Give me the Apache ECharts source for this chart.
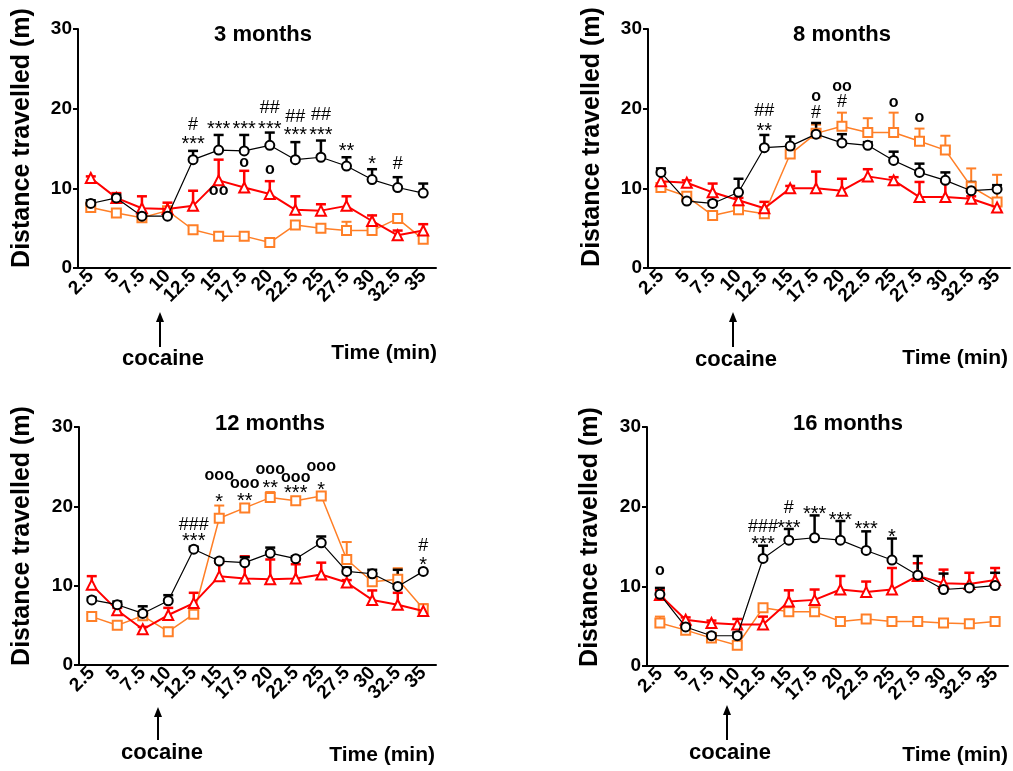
<!DOCTYPE html>
<html><head><meta charset="utf-8">
<script src="https://cdn.jsdelivr.net/npm/echarts@6/dist/echarts.min.js"></script>
<style>html,body{margin:0;padding:0;background:#fff}#c{width:1013px;height:771px}</style>
</head><body><div id="c"></div>
<script>
// ---- data ----
const cats = ['2.5','5','7.5','10','12.5','15','17.5','20','22.5','25','27.5','30','32.5','35'];
const titles = ['3 months','8 months','12 months','16 months'];
const yTicks = [0, 10, 20, 30];

const m3Black     = [8.1,8.8,6.5,6.5,13.6,14.8,14.7,15.4,13.6,13.9,12.8,11.1,10.1,9.4];
const m3BlackErr  = [0.4,0.4,0.3,0.3,1.1,1.9,2.0,1.6,2.2,2.1,1.1,1.3,1.3,1.2];
const m3Red       = [11.3,8.8,7.5,7.4,7.8,11.0,10.1,9.3,7.3,7.2,7.8,5.9,4.1,4.7];
const m3RedErr    = [0.2,0.6,1.5,0.8,1.9,2.6,2.1,1.6,1.7,0.8,1.2,0.7,0.6,0.8];
const m3Orange    = [7.6,6.9,6.3,7.2,4.8,4.0,4.0,3.2,5.4,5.0,4.7,4.7,6.2,3.6];
const m3OrangeErr = [0.3,0.3,0.3,0.3,0.3,0.3,0.3,0.3,0.3,0.3,1.1,0.3,0.3,0.3];
const m3Notes = [[4,16.1,'***'],[4,18.0,'#'],[5,18.0,'***'],[6,18.0,'***'],[7,18.0,'***'],[7,20.1,'##'],
  [8,17.3,'***'],[8,19.0,'##'],[9,17.3,'***'],[9,19.2,'##'],[10,15.2,'**'],[11,13.6,'*'],[12,13.1,'#'],
  [6,13.1,'o'],[7,12.2,'o'],[5,9.6,'oo']];

const m8Black     = [12.0,8.4,8.1,9.5,15.1,15.3,16.8,15.7,15.4,13.5,12.0,11.0,9.7,9.9];
const m8BlackErr  = [0.5,0.3,0.3,1.7,1.6,1.2,1.4,1.1,0.4,1.1,1.1,1.0,1.1,0.5];
const m8Red       = [10.9,10.7,9.5,8.5,7.5,10.0,10.0,9.7,11.5,11.0,8.9,8.9,8.7,7.6];
const m8RedErr    = [1.2,0.3,1.1,0.3,0.8,0.3,2.1,1.5,0.9,0.4,1.9,1.9,0.3,0.3];
const m8Orange    = [10.1,9.0,6.6,7.3,6.8,14.3,16.9,17.8,17.0,17.0,15.9,14.8,10.2,8.3];
const m8OrangeErr = [0.3,0.3,0.3,0.3,0.3,0.3,1.1,1.7,1.8,2.5,1.6,1.8,2.3,3.4];
const m8Notes = [[4,17.8,'**'],[4,19.7,'##'],[6,19.4,'#'],[6,21.4,'o'],[7,20.8,'#'],[7,22.7,'oo'],[9,20.6,'o'],[10,18.7,'o']];

const m12Black     = [8.2,7.6,6.5,8.1,14.6,13.1,12.9,14.1,13.4,15.4,11.8,11.5,9.9,11.8];
const m12BlackErr  = [0.3,0.4,0.9,0.7,0.3,0.3,0.7,0.7,0.3,0.8,0.5,0.5,2.1,0];
const m12Red       = [10.1,6.9,4.5,6.3,7.8,11.2,10.9,10.8,10.9,11.4,10.4,8.2,7.6,6.8];
const m12RedErr    = [1.1,0.3,0.3,0.9,1.3,1.7,2.8,2.5,1.8,1.5,0.3,1.2,1.5,0.8];
const m12Orange    = [6.1,5.0,6.2,4.2,6.4,18.5,19.8,21.1,20.7,21.3,13.3,10.5,10.8,7.1];
const m12OrangeErr = [0.3,0.3,0.3,0.3,0.3,1.6,0.5,0.7,0.3,0.3,2.2,0.3,1.4,0.3];
const m12Notes = [[4,16.2,'***'],[4,17.7,'###'],[5,21.1,'*'],[5,23.8,'ooo'],[6,21.2,'**'],[6,22.8,'ooo'],
  [7,22.9,'**'],[7,24.5,'ooo'],[8,22.2,'***'],[8,23.5,'ooo'],[9,22.6,'*'],[9,24.9,'ooo'],[13,13.2,'*'],[13,15.0,'#']];

const m16Black     = [9.0,4.9,3.8,3.8,13.5,15.8,16.1,15.8,14.5,13.3,11.4,9.6,9.8,10.1];
const m16BlackErr  = [0.8,0.3,0.3,0.4,1.6,1.4,2.8,2.4,2.4,2.7,2.4,2.0,0.3,1.6];
const m16Red       = [8.9,5.8,5.4,5.2,5.2,8.1,8.3,9.6,9.3,9.6,11.3,10.4,10.3,10.8];
const m16RedErr    = [0.6,0.3,0.3,0.7,1.0,1.4,1.3,1.7,1.3,2.7,1.6,1.7,1.4,1.5];
const m16Orange    = [5.4,4.5,3.5,2.6,7.3,6.8,6.8,5.6,5.9,5.6,5.6,5.4,5.3,5.6];
const m16OrangeErr = [0.8,0.3,0.3,0.3,0.3,0.3,0.3,0.3,0.3,0.3,0.3,0.3,0.3,0.3];
const m16Notes = [[0,11.8,'o'],[4,15.9,'***'],[4,17.4,'###'],[5,17.9,'***'],[5,19.8,'#'],[6,19.7,'***'],
  [7,18.9,'***'],[8,17.8,'***'],[9,16.7,'*']];

// ---- layout / styling ----
const panels = [
  {black:m3Black, blackErr:m3BlackErr, red:m3Red, redErr:m3RedErr, orange:m3Orange, orangeErr:m3OrangeErr, notes:m3Notes},
  {black:m8Black, blackErr:m8BlackErr, red:m8Red, redErr:m8RedErr, orange:m8Orange, orangeErr:m8OrangeErr, notes:m8Notes},
  {black:m12Black, blackErr:m12BlackErr, red:m12Red, redErr:m12RedErr, orange:m12Orange, orangeErr:m12OrangeErr, notes:m12Notes},
  {black:m16Black, blackErr:m16BlackErr, red:m16Red, redErr:m16RedErr, orange:m16Orange, orangeErr:m16OrangeErr, notes:m16Notes}
];
const grids = [
  {left:78, top:29, width:358, height:239},
  {left:648, top:29, width:362, height:239},
  {left:79, top:427, width:357, height:238},
  {left:647, top:427, width:361, height:239}
];
const FONT = '"Liberation Sans", Arial, sans-serif';
const BLACK = '#000000', RED = '#ff0000', ORANGE = '#ff7f27';

const option = {
  animation:false,
  backgroundColor:'#fff',
  textStyle:{fontFamily:FONT},
  title: titles.map((t,i)=>({
    text:t, left:[258,837,265,843][i], top:[19,19,408,408][i], textAlign:'center',
    textStyle:{fontSize:22, fontWeight:'bold', color:'#000', fontFamily:FONT}
  })),
  grid: grids,
  xAxis: grids.map((g,i)=>({
    type:'category', gridIndex:i, data:cats, boundaryGap:true,
    axisLine:{lineStyle:{color:'#000', width:2}},
    axisTick:{alignWithLabel:true, length:5, lineStyle:{color:'#000', width:2}},
    axisLabel:{interval:0, rotate:45, fontSize:19, fontWeight:'bold', color:'#000', margin:5, fontFamily:FONT},
    splitLine:{show:false}
  })),
  yAxis: grids.map((g,i)=>({
    type:'value', gridIndex:i, min:0, max:30, interval:10,
    axisLine:{show:true, lineStyle:{color:'#000', width:2}},
    axisTick:{show:true, length:5, lineStyle:{color:'#000', width:2}},
    axisLabel:{fontSize:19, fontWeight:'bold', color:'#000', margin:6, fontFamily:FONT,
      formatter:v=>yTicks.includes(v)?String(v):''},
    splitLine:{show:false}
  })),
  series:[],
  graphic:[]
};

function errSeries(vals, errs, color, gi, lw){
  return {
    type:'custom', xAxisIndex:gi, yAxisIndex:gi, z:1, silent:true,
    data: vals.map((v,k)=>[k, v, errs[k]]),
    renderItem:(params, api)=>{
      const x = api.coord([api.value(0), api.value(1)]);
      const top = api.coord([api.value(0), api.value(1)+api.value(2)]);
      const st = {stroke:color, lineWidth:lw};
      return {type:'group', children:[
        {type:'line', shape:{x1:x[0], y1:x[1], x2:top[0], y2:top[1]}, style:st},
        {type:'line', shape:{x1:top[0]-5, y1:top[1], x2:top[0]+5, y2:top[1]}, style:st}
      ]};
    }
  };
}
function lineSeries(vals, color, symbol, size, lw, bw, gi, z){
  return {
    type:'line', xAxisIndex:gi, yAxisIndex:gi, data:vals, z:z,
    symbol:symbol, symbolSize:size, showAllSymbol:true,
    lineStyle:{color:color, width:lw},
    itemStyle:{color:color, borderColor:color, borderWidth:bw}
  };
}
function noteSeries(notes, gi){
  return {
    type:'custom', xAxisIndex:gi, yAxisIndex:gi, z:10, silent:true,
    data: notes.map(n=>[n[0], n[1], n[2]]),
    renderItem:(params, api)=>{
      const p = api.coord([api.value(0), api.value(1)]);
      const txt = notes[params.dataIndex][2];
      const star = txt.indexOf('*')>=0;
      const circ = txt.indexOf('o')>=0;
      const font = star ? '20px ' : (circ ? 'bold 16px ' : '18px ');
      return {type:'text', style:{
        text:txt, x:p[0], y:p[1] + (star?5:(circ?-1:0)), align:'center', verticalAlign:'middle',
        fill:'#000', font:font + FONT
      }};
    }
  };
}

panels.forEach((p,gi)=>{
  option.series.push(errSeries(p.orange, p.orangeErr, ORANGE, gi, 2));
  option.series.push(errSeries(p.red, p.redErr, RED, gi, 2.5));
  option.series.push(errSeries(p.black, p.blackErr, BLACK, gi, 2.5));
  option.series.push(lineSeries(p.orange, ORANGE, 'emptyRect', 9, 1.5, 2, gi, 3));
  option.series.push(lineSeries(p.red, RED, 'emptyTriangle', 10, 2, 2, gi, 4));
  option.series.push(lineSeries(p.black, BLACK, 'emptyCircle', 9, 1.2, 2, gi, 5));
  option.series.push(noteSeries(p.notes, gi));
});

// y-axis names
const yNames = [[22,138],[592,137],[22,536],[590,537]];
yNames.forEach(n=>{
  option.graphic.push({type:'text', x:n[0], y:n[1], rotation:Math.PI/2,
    style:{text:'Distance travelled (m)', font:'bold 25px '+FONT, fill:'#000', align:'center', verticalAlign:'middle'}});
});
// cocaine arrows and axis captions
const arrows = [[160,312,347,163,359],[733,312,347,736,360],[158,707,740,162,753],[727,705,740,730,753]];
arrows.forEach(a=>{
  option.graphic.push({type:'line', shape:{x1:a[0], y1:a[1]+8, x2:a[0], y2:a[2]}, style:{stroke:'#000', lineWidth:2}});
  option.graphic.push({type:'polygon', shape:{points:[[a[0],a[1]],[a[0]-4,a[1]+10],[a[0]+4,a[1]+10]]}, style:{fill:'#000'}});
  option.graphic.push({type:'text', x:a[3], y:a[4], style:{text:'cocaine', font:'bold 22px '+FONT, fill:'#000', align:'center', verticalAlign:'middle'}});
});
const timeLbl = [[437,353],[1008,358],[435,755],[1008,755]];
timeLbl.forEach(t=>{
  option.graphic.push({type:'text', x:t[0], y:t[1], style:{text:'Time (min)', font:'bold 21px '+FONT, fill:'#000', align:'right', verticalAlign:'middle'}});
});

const chart = echarts.init(document.getElementById('c'), null, {renderer:'canvas'});
chart.setOption(option);
</script>
</body></html>
